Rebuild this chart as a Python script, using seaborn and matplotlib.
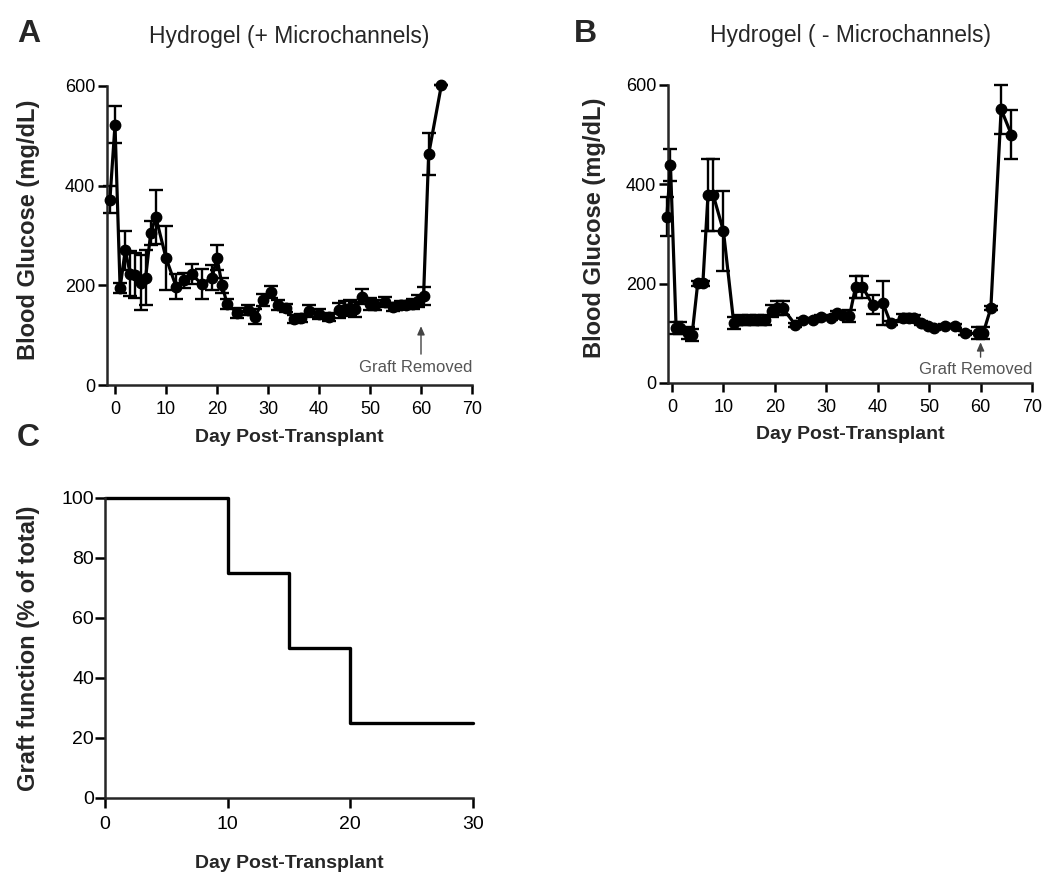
import matplotlib
matplotlib.use("Agg")
import matplotlib.pyplot as plt
import seaborn as sns
import pandas as pd
import numpy as np

# ---------------- data ----------------
A_day = [-1, 0, 1, 2, 3, 4, 5, 6, 7, 8, 10, 12, 13.5, 15, 17, 19, 20, 21, 22, 24,
         26, 27.5, 29, 30.5, 32, 33.5, 35, 36.5, 38, 40, 42, 44, 45, 46, 47, 48.5,
         50, 51, 53, 54.5, 56, 57, 58.5, 59.5, 60.5, 61.5, 64]
A_mean = [372, 522, 195, 270, 223, 220, 205, 215, 305, 337, 255, 197, 210, 222, 203,
          215, 255, 200, 162, 145, 150, 137, 170, 187, 160, 155, 133, 135, 148, 143,
          137, 150, 153, 155, 152, 177, 163, 160, 167, 157, 160, 160, 163, 168, 178,
          463, 602]
A_sem = [27, 37, 10, 40, 45, 45, 55, 55, 25, 55, 65, 25, 15, 20, 30, 25, 25, 15, 10,
         10, 10, 15, 12, 12, 10, 8, 8, 8, 12, 10, 8, 15, 15, 15, 15, 15, 12, 10, 10,
         8, 8, 8, 10, 12, 18, 42, 0]

B_day = [-1, -0.3, 0.8, 1.6, 3.2, 3.9, 5, 6, 7, 8, 10, 12, 13.5, 15, 16.5, 18, 19.5,
         20.5, 21.5, 24, 25.5, 27.5, 29, 31, 32, 33, 34.5, 35.7, 37, 39, 41, 42.5,
         45, 46, 47, 48.5, 49.7, 51, 53, 55, 57, 59.5, 60.5, 62, 64, 66]
B_mean = [335, 439, 111, 111, 100, 97, 201, 201, 379, 379, 306, 121, 127, 127, 127,
          127, 145, 151, 151, 117, 127, 127, 133, 131, 141, 136, 134, 194, 194, 158,
          161, 121, 131, 131, 131, 121, 114, 111, 114, 114, 100, 100, 100, 151, 551, 500]
B_sem = [40, 32, 12, 12, 12, 12, 5, 5, 72, 72, 80, 12, 10, 10, 10, 10, 12, 14, 14, 4,
         4, 4, 4, 4, 4, 4, 12, 22, 22, 20, 45, 4, 8, 8, 6, 4, 4, 4, 4, 4, 4, 12, 12,
         4, 50, 50]

C_day = [0, 10, 15, 20, 30]
C_pct = [100, 75, 50, 25, 25]

glucose_ticks = [0, 200, 400, 600]
day_ticks_AB = [0, 10, 20, 30, 40, 50, 60, 70]
day_ticks_C = [0, 10, 20, 30]
pct_ticks = [0, 20, 40, 60, 80, 100]

removal_day = 60

# ---------------- style ----------------
sns.set_style("ticks")
plt.rcParams["font.family"] = ["Liberation Sans", "DejaVu Sans"]
plt.rcParams["axes.linewidth"] = 1.8

fig = plt.figure(figsize=(10.5, 8.9), dpi=100)
W, H = 1050, 890


def add_ax(l, r, t, b):
    return fig.add_axes([l / W, 1 - b / H, (r - l) / W, (b - t) / H])


axA = add_ax(107, 472, 86, 385)
axB = add_ax(668, 1032, 85, 383)
axC = add_ax(105, 473, 498, 798)


def glucose_panel(ax, day, mean, sem, xmin, title, txt_y, arrow_tail, arrow_head, ylab_x):
    df = pd.DataFrame({"day": day, "glucose": mean})
    ax.errorbar(day, mean, yerr=sem, fmt="none", ecolor="black", elinewidth=1.7,
                capsize=5, capthick=1.7, clip_on=False, zorder=2)
    sns.lineplot(data=df, x="day", y="glucose", ax=ax, color="black", linewidth=2.3,
                 marker="o", markersize=7.5, markeredgecolor="black",
                 markeredgewidth=1, zorder=3)
    for ln in ax.lines:
        ln.set_clip_on(False)
    ax.set_xlim(xmin, 70)
    ax.set_ylim(0, 600)
    ax.set_xticks(day_ticks_AB)
    ax.set_yticks(glucose_ticks)
    sns.despine(ax=ax)
    ax.tick_params(axis="both", direction="out", length=6.5, width=1.8,
                   labelsize=13, colors="black")
    ax.tick_params(axis="x", pad=5)
    ax.tick_params(axis="y", pad=2)
    ax.set_xlabel("Day Post-Transplant", fontsize=14, fontweight="bold", va="center")
    ax.xaxis.set_label_coords(0.5, -0.174)
    ax.set_ylabel("Blood Glucose (mg/dL)", fontsize=17, fontweight="bold", va="center")
    ax.yaxis.set_label_coords(ylab_x, 0.52)
    ax.set_title(title, fontsize=16.5, pad=31)
    ax.annotate("", xy=(removal_day, arrow_head), xytext=(removal_day, arrow_tail),
                arrowprops=dict(arrowstyle="-|>,head_length=0.5,head_width=0.22",
                                color="#444444", lw=1.0, shrinkA=0, shrinkB=0))
    ax.text(70, txt_y, "Graft Removed", ha="right", va="center", fontsize=12,
            color="#555555")


glucose_panel(axA, A_day, A_mean, A_sem, -1.57, "Hydrogel (+ Microchannels)",
              36, 62, 118, -0.214)
glucose_panel(axB, B_day, B_mean, B_sem, -0.78, "Hydrogel ( - Microchannels)",
              27, 52, 82, -0.203)

# Panel C
dfC = pd.DataFrame({"day": C_day, "pct": C_pct})
sns.lineplot(data=dfC, x="day", y="pct", ax=axC, color="black", linewidth=2.4,
             drawstyle="steps-post")
for ln in axC.lines:
    ln.set_clip_on(False)
axC.set_xlim(0, 30)
axC.set_ylim(0, 100)
axC.set_xticks(day_ticks_C)
axC.set_yticks(pct_ticks)
sns.despine(ax=axC)
axC.tick_params(axis="both", direction="out", length=7, width=1.8,
                labelsize=14, colors="black")
axC.tick_params(axis="x", pad=6)
axC.tick_params(axis="y", pad=1)
axC.set_xlabel("Day Post-Transplant", fontsize=14, fontweight="bold", va="center")
axC.xaxis.set_label_coords(0.5, -0.217)
axC.set_ylabel("Graft function (% of total)", fontsize=17, fontweight="bold", va="center")
axC.yaxis.set_label_coords(-0.208, 0.5)

# panel letters
fig.text(17 / W, 1 - 34 / H, "A", fontsize=23, fontweight="bold", va="center", ha="left")
fig.text(574 / W, 1 - 34 / H, "B", fontsize=23, fontweight="bold", va="center", ha="left")
fig.text(17 / W, 1 - 438 / H, "C", fontsize=23, fontweight="bold", va="center", ha="left")

fig.savefig("out.png", dpi=100, facecolor="white")
